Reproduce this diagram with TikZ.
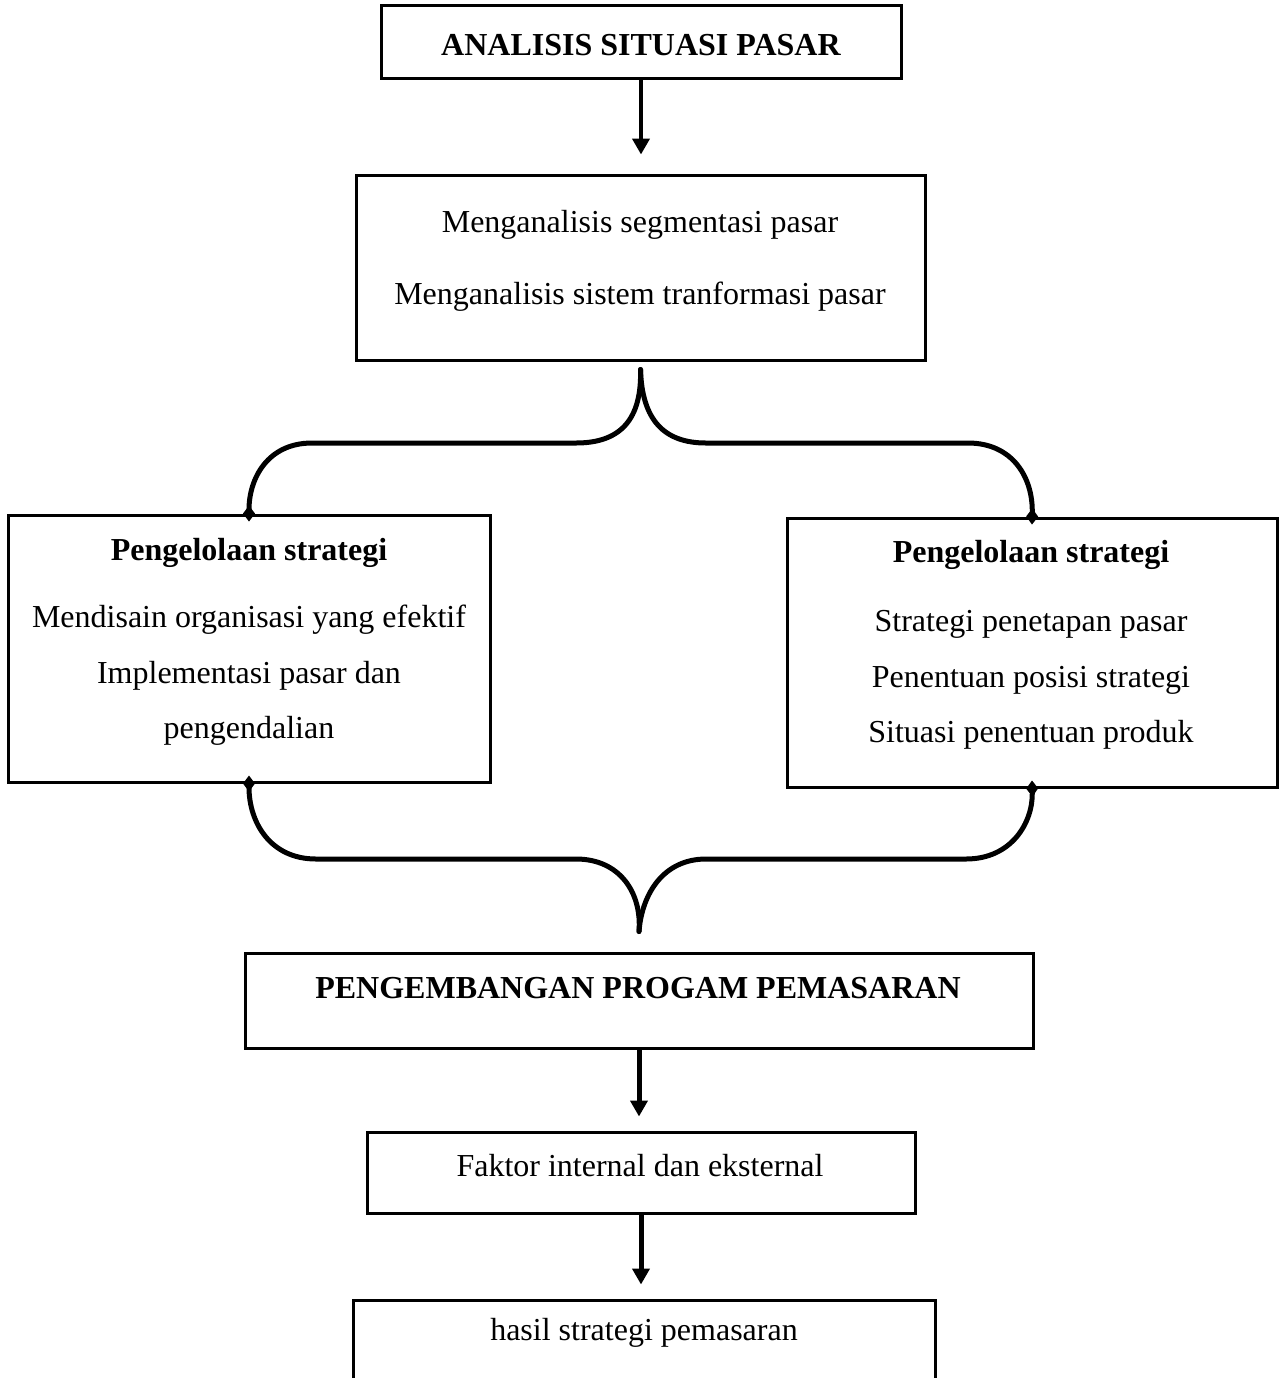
\documentclass[tikz,border=0pt]{standalone}
\usepackage{fontspec}
\setmainfont{Liberation Serif}
\usetikzlibrary{arrows.meta,calc}
\begin{document}
\begin{tikzpicture}[x=0.5pt,y=-0.5pt,
  box/.style={draw, line width=1.5pt, rectangle, inner sep=0pt},
  txt/.style={font=\fontsize{16}{19}\selectfont, inner sep=0pt, anchor=center, yshift=-1.5pt},
  btxt/.style={font=\fontsize{16}{19}\selectfont\bfseries, inner sep=0pt, anchor=center, yshift=-1.5pt},
  arr/.style={line width=2pt, -{Triangle[width=8.5pt,length=8pt]}},
  brace/.style={line width=2.5pt, line cap=round},
  dtip/.style={-{Diamond[width=6pt,length=8pt]}},
]
\clip (0,0) rectangle (1281,1378);
\fill[white] (0,0) rectangle (1281,1378);

% boxes
\node[box, minimum width=260pt, minimum height=36.5pt] (b1) at (641,41.5) {};
\node[box, minimum width=284.5pt, minimum height=92.5pt] (b2) at (640.5,267.5) {};
\node[box, minimum width=241pt, minimum height=133.5pt] (bl) at (249,648.5) {};
\node[box, minimum width=245pt, minimum height=134.5pt] (br) at (1032,652.5) {};
\node[box, minimum width=394pt, minimum height=47.5pt] (bp) at (639,1000.5) {};
\node[box, minimum width=274pt, minimum height=40.5pt] (bf) at (641,1172.5) {};
\node[box, minimum width=291pt, minimum height=50pt] (bh) at (644,1350) {};

% texts
\node[btxt] (t1) at (641,42) {ANALISIS SITUASI PASAR};
\node[txt] (t2a) at (640,222) {Menganalisis segmentasi pasar};
\node[txt] (t2b) at (640,294) {Menganalisis sistem tranformasi pasar};
\node[btxt] (tla) at (249,550) {Pengelolaan strategi};
\node[txt] (tlb) at (249,617) {Mendisain organisasi yang efektif};
\node[txt] (tlc) at (249,673) {Implementasi pasar dan};
\node[txt] (tld) at (249,728) {pengendalian};
\node[btxt] (tra) at (1031,552) {Pengelolaan strategi};
\node[txt] (trb) at (1031,621) {Strategi penetapan pasar};
\node[txt] (trc) at (1031,677) {Penentuan posisi strategi};
\node[txt] (trd) at (1031,732) {Situasi penentuan produk};
\node[btxt] (tp) at (638,985) {PENGEMBANGAN PROGAM PEMASARAN};
\node[txt] (tf) at (640,1163) {Faktor internal dan eksternal};
\node[txt] (th) at (644,1330) {hasil strategi pemasaran};

% straight arrows
\coordinate (a1) at ($(b1.south)+(0,75)$);
\draw[arr] (b1.south) -- (a1);
\coordinate (a2) at ($(bp.south)+(0,67)$);
\draw[arr, line width=2.5pt] (bp.south) -- (a2);
\coordinate (a3) at ($(bf.south)+(0,70)$);
\draw[arr, line width=2.5pt] (bf.south) -- (a3);

% top brace
\coordinate (ttip) at ($(b2.south)+(0,8)$);
\coordinate (lt) at ($(bl.north)+(0,8)$);
\coordinate (rt) at ($(br.north)+(0,8)$);
\draw[brace, dtip] (ttip) .. controls (642,420) and (620,443) .. (576,443)
   -- (312,443) .. controls (268,443) and (249,478) .. (lt);
\draw[brace, dtip] (ttip) .. controls (642,420) and (664,443) .. (706,443)
   -- (968,443) .. controls (1013,443) and (1033,478) .. (rt);

% bottom brace
\coordinate (btip) at ($(bp.north)+(0,-20)$);
\coordinate (lb) at ($(bl.south)+(0,-8)$);
\coordinate (rb) at ($(br.south)+(0,-8)$);
\draw[brace, dtip] (btip) .. controls (642,893) and (620,859) .. (576,859)
   -- (316,859) .. controls (270,859) and (249,822) .. (lb);
\draw[brace, dtip] (btip) .. controls (642,893) and (664,859) .. (706,859)
   -- (966,859) .. controls (1012,859) and (1033,822) .. (rb);
\end{tikzpicture}
\end{document}
